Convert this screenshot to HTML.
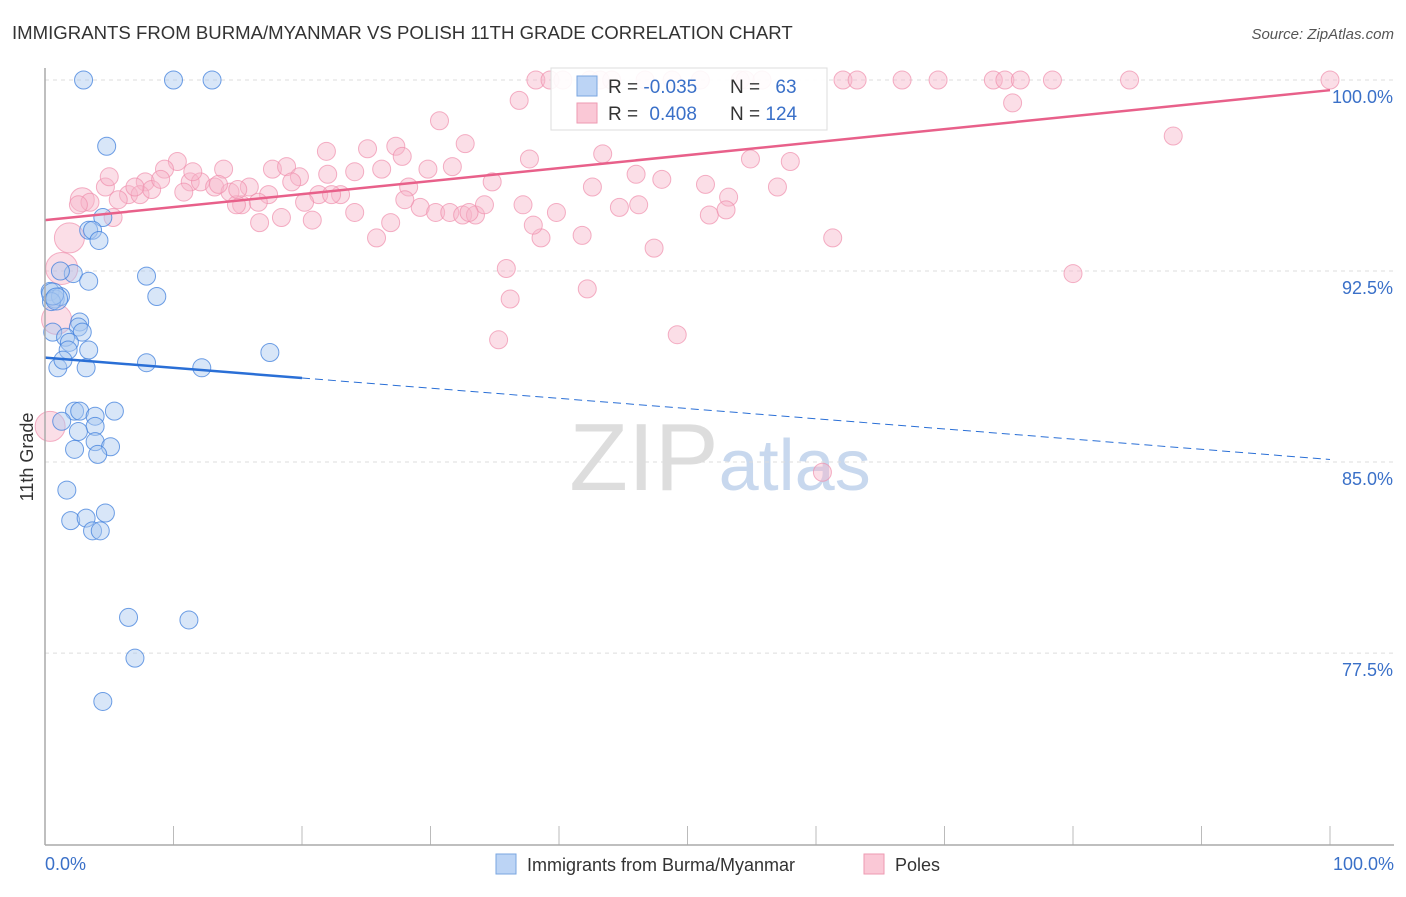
<!DOCTYPE html>
<html><head><meta charset="utf-8"><style>
body{margin:0;background:#fff;font-family:"Liberation Sans",sans-serif}
svg text{font-family:"Liberation Sans",sans-serif}
</style></head><body>
<svg id="c" width="1406" height="892" xmlns="http://www.w3.org/2000/svg">
<text x="12" y="39" font-size="18.6" fill="#333">IMMIGRANTS FROM BURMA/MYANMAR VS POLISH 11TH GRADE CORRELATION CHART</text>
<text x="1394" y="39" font-size="15" fill="#555" text-anchor="end" font-style="italic">Source: ZipAtlas.com</text>
<text x="33" y="457" font-size="18" fill="#333" text-anchor="middle" transform="rotate(-90 33 457)">11th Grade</text>
<text x="720" y="490" font-size="96" fill="#ddd" text-anchor="middle" font-family="Liberation Serif">ZIP<tspan fill="#c8d8ee" font-family="Liberation Sans" font-size="72">atlas</tspan></text>
<g id="grid"></g><g id="pts"></g><g id="trend"></g>
<line x1="45" y1="68" x2="45" y2="845" stroke="#aaa" stroke-width="1.5"/>
<line x1="45" y1="845" x2="1394" y2="845" stroke="#aaa" stroke-width="1.5"/>
<text x="45" y="870" font-size="18" fill="#3a70c8">0.0%</text>
<text x="1394" y="870" font-size="18" fill="#3a70c8" text-anchor="end">100.0%</text>
<g>
<rect x="496" y="854" width="20" height="20" fill="#bcd4f5" stroke="#7aa6e0"/>
<text x="527" y="871" font-size="18" fill="#333">Immigrants from Burma/Myanmar</text>
<rect x="864" y="854" width="20" height="20" fill="#fac8d6" stroke="#ee9ab2"/>
<text x="895" y="871" font-size="18" fill="#333">Poles</text>
</g>
<g>
<rect x="551" y="68" width="276" height="62" fill="#fff" fill-opacity="0.9" stroke="#ddd"/>
<rect x="577" y="76" width="20" height="20" fill="#bcd4f5" stroke="#7aa6e0"/>
<rect x="577" y="103" width="20" height="20" fill="#fac8d6" stroke="#ee9ab2"/>
<text x="608" y="93" font-size="19" fill="#333">R = <tspan fill="#3a70c8">-0.035</tspan></text>
<text x="730" y="93" font-size="19" fill="#333">N = <tspan fill="#3a70c8" dx="10">63</tspan></text>
<text x="608" y="120" font-size="19" fill="#333">R = <tspan fill="#3a70c8" dx="6">0.408</tspan></text>
<text x="730" y="120" font-size="19" fill="#333">N = <tspan fill="#3a70c8">124</tspan></text>
</g>
</svg>
<script>
const yTicks=[100,92.5,85,77.5];
const yTickLabels=["100.0%","92.5%","85.0%","77.5%"];
const xTicks=[0,10,20,30,40,50,60,70,80,90,100];
const blueX=[3,10,13,4.8,4.5,3.4,3.7,4.2,7.9,2.2,3.4,1.2,8.7,0.4,0.8,1.2,0.5,0.6,2.7,2.6,2.9,1.6,1.9,1.8,3.4,7.9,12.2,17.5,1,3.2,1.4,2.3,2.7,5.4,3.9,1.3,3.9,2.6,3.9,5.1,2.3,4.1,1.7,2,3.2,4.7,3.7,4.3,6.5,11.2,7,4.5,0.6,0.9];
const blueY=[100,100,100,97.4,94.6,94.1,94.1,93.7,92.3,92.4,92.1,92.5,91.5,91.7,91.4,91.5,91.3,90.1,90.5,90.3,90.1,89.9,89.7,89.4,89.4,88.9,88.7,89.3,88.7,88.7,89,87,87,87,86.8,86.6,86.4,86.2,85.8,85.6,85.5,85.3,83.9,82.7,82.8,83,82.3,82.3,78.9,78.8,77.3,75.6,91.6,91.4];
const pinkX=[38.2,39.3,40.3,42.4,43.2,44.1,46.7,48.8,51,54.1,
54.5,55.8,62.1,63.2,66.7,69.5,73.8,74.7,75.9,78.4,
84.4,100,
36.9,75.3,30.7,87.8,27.3,32.7,21.9,37.7,43.4,54.9,
58,10.3,9.3,13.9,17.7,18.8,19.8,25.1,27.8,26.2,
24.1,29.8,31.7,7.8,4.7,2.9,6.5,5.7,7.4,8.3,
11.3,12.1,13.2,14.4,15.9,17.4,19.2,21.3,23,28.3,
34.8,42.6,46,51.4,3.5,2.6,5.3,10.8,15.3,14.9,
16.6,20.2,22.3,24.1,29.2,30.4,31.5,32.5,33.5,34.2,
37.2,39.8,44.7,46.2,51.7,53.2,16.7,18.4,20.8,25.8,
26.9,38.6,41.8,47.4,61.3,35.9,80,42.2,36.2,35.3,
49.2,60.5,1.9,1.3,0.9,0.4,5,7,9,11.5,
13.5,15,22,28,33,38,48,53,57];
const pinkY=[100,100,100,100,100,100,100,100,100,100,
100,100,100,100,100,100,100,100,100,100,
100,100,
99.2,99.1,98.4,97.8,97.4,97.5,97.2,96.9,97.1,96.9,
96.8,96.8,96.5,96.5,96.5,96.6,96.2,97.3,97,96.5,
96.4,96.5,96.6,96,95.8,95.3,95.5,95.3,95.5,95.7,
96,96,95.8,95.6,95.8,95.5,96,95.5,95.5,95.8,
96,95.8,96.3,95.9,95.2,95.1,94.6,95.6,95.1,95.1,
95.2,95.2,95.5,94.8,95,94.8,94.8,94.7,94.7,95.1,
95.1,94.8,95,95.1,94.7,95.4,94.4,94.6,94.5,93.8,
94.4,93.8,93.9,93.4,93.8,92.6,92.4,91.8,91.4,89.8,
90,84.6,93.8,92.6,90.6,86.4,96.2,95.8,96.1,96.4,
95.9,95.7,96.3,95.3,94.8,94.3,96.1,94.9,95.8];
const pinkBigIdx=[47,104,105,106,107];
const pinkBigR=[12,15,16,15,15];
const blueTrend=[89.1,85.1], blueSolidEnd=20;
const pinkTrend=[94.5,99.6];
const X=v=>45+v/100*1285, Y=v=>80+(100-v)*25.47;
const NS="http://www.w3.org/2000/svg";
function mk(t,a,p){const e=document.createElementNS(NS,t);for(const k in a)e.setAttribute(k,a[k]);p.appendChild(e);return e;}
const grid=document.getElementById('grid'),pts=document.getElementById('pts'),tr=document.getElementById('trend'),svg=document.getElementById('c');
yTicks.forEach((v,i)=>{
 const l=mk('line',{x1:45,x2:1394,y1:Y(v),y2:Y(v),stroke:'#ddd','stroke-dasharray':'4,4'},grid);
 
 
 const t=mk('text',{x:1393,y:Y(v)+23,'font-size':18,fill:'#3a70c8','text-anchor':'end'},svg);
 t.textContent=yTickLabels[i];
 
 
});
xTicks.forEach(v=>{
 const l=mk('line',{x1:X(v),x2:X(v),y1:826,y2:845,stroke:'#bbb'},grid);
 
 
});
const n=Math.min(pinkX.length,pinkY.length);
for(let i=0;i<n;i++){
 const bi=pinkBigIdx.indexOf(i);
 const r=bi>=0?pinkBigR[bi]:9;
 const c=mk('circle',{cx:X(pinkX[i]),cy:Y(pinkY[i]),r:r,fill:'#f7b6c9','fill-opacity':0.45,stroke:'#ef8fac','stroke-opacity':0.7},pts);
 
 
}
blueX.forEach((v,i)=>{
 const c=mk('circle',{cx:X(v),cy:Y(blueY[i]),r:i>=52?11:9,fill:'#a9c8f0','fill-opacity':0.45,stroke:'#3f7fdc','stroke-opacity':0.75},pts);
 
 
});
const by=x=>blueTrend[0]+(blueTrend[1]-blueTrend[0])*x/100;
let l=mk('line',{x1:X(0),y1:Y(by(0)),x2:X(blueSolidEnd),y2:Y(by(blueSolidEnd)),stroke:'#2a6fd6','stroke-width':2.5},tr);


l=mk('line',{x1:X(blueSolidEnd),y1:Y(by(blueSolidEnd)),x2:X(100),y2:Y(by(100)),stroke:'#2a6fd6','stroke-width':1,'stroke-dasharray':'8,5'},tr);


l=mk('line',{x1:X(0),y1:Y(pinkTrend[0]),x2:X(100),y2:Y(pinkTrend[1]),stroke:'#e8608a','stroke-width':2.5},tr);


</script>
</body></html>
